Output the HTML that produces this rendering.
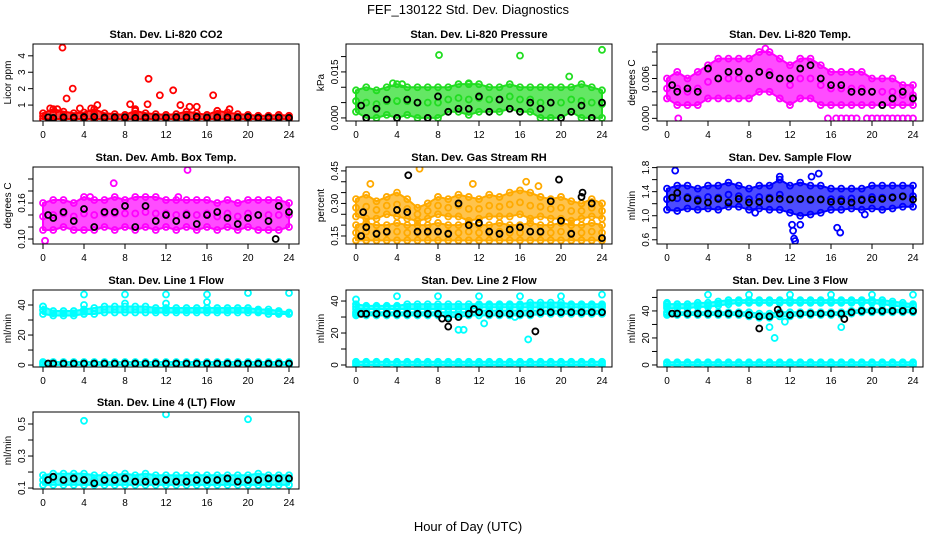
<!DOCTYPE html>
<html><head><meta charset="utf-8"><style>
body{margin:0;background:#fff}
svg{display:block;font-family:"Liberation Sans",sans-serif}
</style></head><body>
<svg id="chart" width="936" height="540" viewBox="0 0 936 540">
<text x="468" y="14" text-anchor="middle" font-size="13">FEF_130122  Std. Dev. Diagnostics</text>
<text x="468" y="531" text-anchor="middle" font-size="13">Hour of Day (UTC)</text>
</svg>
<script>
const hours=[0,1,2,3,4,5,6,7,8,9,10,11,12,13,14,15,16,17,18,19,20,21,22,23,24];
const xTicks=[0,4,8,12,16,20,24];
// Panel 1 CO2
const co2Lo=[0.15,0.15,0.15,0.15,0.15,0.15,0.15,0.15,0.15,0.15,0.15,0.15,0.15,0.15,0.15,0.15,0.15,0.15,0.15,0.15,0.15,0.15,0.15,0.15,0.15];
const co2Hi=[0.5,0.75,0.6,0.5,0.55,0.75,0.5,0.45,0.4,0.65,0.5,0.45,0.4,0.45,0.6,0.5,0.4,0.65,0.55,0.45,0.4,0.35,0.35,0.4,0.35];
const co2Black=[0.25,0.22,0.25,0.24,0.27,0.28,0.24,0.25,0.26,0.22,0.24,0.25,0.24,0.26,0.25,0.28,0.24,0.25,0.25,0.24,0.28,0.23,0.24,0.24,0.22];
const co2OutX=[1.9,2.3,2.9,3.6,5.3,8.5,9,10.2,10.3,11.4,12.7,13.4,14.3,15,16.6,18.2,0.7,1.4,4.7];
const co2OutY=[4.5,1.4,2.0,0.8,1.0,1.05,0.75,1.05,2.6,1.6,1.9,1.0,0.9,0.9,1.6,0.75,0.8,0.75,0.8];
// Panel 2 Pressure
const prLo=[0.002,0,0,0.001,0,0.001,0,0,0,0.002,0.002,0.001,0.002,0.002,0.002,0.003,0.002,0.002,0,0,0,0.002,0,0,0];
const prHi=[0.009,0.01,0.009,0.01,0.011,0.01,0.01,0.01,0.01,0.01,0.011,0.011,0.011,0.01,0.01,0.011,0.01,0.01,0.01,0.01,0.01,0.01,0.011,0.01,0.009];
const prBlack=[0.004,0,0.003,0.006,0,0.006,0.005,0,0.007,0.002,0.003,0.003,0.007,0.002,0.006,0.003,0.002,0.005,0.003,0.005,0,0.002,0.004,0,0.005];
const prOutX=[8.1,16,20.8,24,3.6,4.5,11];
const prOutY=[0.0205,0.0203,0.0135,0.0222,0.0113,0.011,0.0113];
// Panel 3 Temp
const tLo=[0.003,0.002,0.002,0.002,0.003,0.003,0.003,0.003,0.003,0.004,0.004,0.003,0.002,0.003,0.003,0.002,0.002,0.002,0.002,0.002,0.002,0.002,0.002,0.002,0.002];
const tHi=[0.006,0.007,0.006,0.007,0.008,0.009,0.009,0.009,0.009,0.01,0.01,0.009,0.008,0.009,0.009,0.008,0.007,0.007,0.007,0.007,0.006,0.006,0.006,0.005,0.005];
const tBlack=[0.005,0.004,0.0045,0.004,0.0075,0.006,0.007,0.007,0.006,0.007,0.0065,0.006,0.006,0.0075,0.008,0.006,0.005,0.005,0.004,0.004,0.004,0.002,0.003,0.004,0.003];
const tOutX=[1.1,15.7,16.5,17,17.5,18,18.5,19.5,20,20.5,21,21.5,22,22.5,23,23.5,24,9.6];
const tOutY=[0,0,0,0,0,0,0,0,0,0,0,0,0,0,0,0,0,0.0105];
// Panel 4 Amb box
const aLo=[0.115,0.115,0.12,0.115,0.115,0.115,0.12,0.115,0.12,0.115,0.12,0.115,0.12,0.115,0.12,0.115,0.12,0.115,0.12,0.115,0.12,0.115,0.115,0.115,0.12];
const aHi=[0.16,0.165,0.165,0.16,0.17,0.165,0.165,0.17,0.165,0.17,0.17,0.17,0.165,0.165,0.165,0.165,0.165,0.16,0.165,0.16,0.165,0.165,0.165,0.165,0.16];
const aBlack=[0.14,0.135,0.145,0.13,0.15,0.12,0.145,0.145,0.155,0.12,0.155,0.13,0.14,0.13,0.14,0.125,0.14,0.145,0.135,0.125,0.135,0.14,0.13,0.155,0.145];
const aOutX=[0.2,6.9,14.1,13.2,4.6];
const aOutY=[0.097,0.193,0.215,0.17,0.17];
const aBOutX=[22.7];
const aBOutY=[0.10];
// Panel 5 RH
const rhLoA=[0.13,0.13,0.13,0.13,0.13,0.13,0.13,0.13,0.13,0.13,0.13,0.13,0.13,0.13,0.13,0.13,0.13,0.13,0.13,0.13,0.13,0.13,0.13,0.13,0.13];
const rhHiA=[0.2,0.21,0.2,0.2,0.21,0.2,0.2,0.2,0.21,0.2,0.2,0.21,0.2,0.2,0.21,0.2,0.2,0.21,0.2,0.2,0.21,0.2,0.2,0.21,0.2];
const rhLoB=[0.24,0.23,0.23,0.25,0.24,0.23,0.22,0.23,0.25,0.24,0.24,0.22,0.23,0.24,0.24,0.24,0.25,0.23,0.24,0.23,0.23,0.22,0.23,0.24,0.23];
const rhHiB=[0.32,0.34,0.31,0.33,0.35,0.32,0.28,0.30,0.33,0.32,0.34,0.33,0.32,0.34,0.33,0.35,0.36,0.35,0.33,0.32,0.33,0.31,0.30,0.32,0.30];
const rhBlack=[0.15,0.19,0.16,0.17,0.27,0.26,0.17,0.17,0.17,0.16,0.30,0.20,0.21,0.17,0.16,0.18,0.19,0.17,0.17,0.31,0.22,0.16,0.33,0.30,0.14];
const rhOutX=[6.2,16.6,1.4,11.4,17.8];
const rhOutY=[0.46,0.40,0.39,0.39,0.38];
const rhBOutX=[5.1,19.8,22.1,0.7];
const rhBOutY=[0.43,0.41,0.35,0.26];
// Panel 6 Sample flow
const sLo=[1.1,1.08,1.12,1.1,1.12,1.1,1.15,1.15,1.1,1.12,1.1,1.1,1.05,1.0,1.02,1.05,1.1,1.1,1.12,1.1,1.12,1.1,1.12,1.15,1.15];
const sHi=[1.45,1.5,1.5,1.45,1.5,1.5,1.55,1.5,1.45,1.5,1.5,1.6,1.5,1.55,1.5,1.5,1.45,1.45,1.45,1.45,1.5,1.5,1.5,1.5,1.5];
const sBlack=[1.3,1.38,1.29,1.25,1.22,1.28,1.22,1.28,1.22,1.23,1.28,1.28,1.27,1.28,1.27,1.27,1.23,1.24,1.22,1.26,1.27,1.28,1.3,1.32,1.27];
const sOutX=[0.8,12.2,12.3,12.4,12.5,13,16.6,16.9,14.8,14.1,11,8.6,19.3];
const sOutY=[1.75,0.85,0.75,0.62,0.58,0.85,0.8,0.72,1.7,1.65,1.65,1.05,1.02];
// Panel 7 Line 1
const l1Lo=[34,33,33,33,34,34,35,35,35,35,35,35,35,35,35,35,35,35,35,35,35,35,34,34,34];
const l1Hi=[39,36,36,36,37,38,39,39,39,39,39,38,38,38,38,38,38,38,38,38,38,37,37,36,35];
const l1ZeroLo=[0,0,0,0,0,0,0,0,0,0,0,0,0,0,0,0,0,0,0,0,0,0,0,0,0];
const l1ZeroHi=[2,2,2,2,2,2,2,2,2,2,2,2,2,2,2,2,2,2,2,2,2,2,2,2,2];
const l1Black=[1,1,1,1,1,1,1,1,1,1,1,1,1,1,1,1,1,1,1,1,1,1,1,1,1];
const l1OutX=[4,8,12,16,20,24,0,4,8,12,16];
const l1OutY=[47,47,47,47,48,48,39,40,41,41,42];
// Panel 8 Line 2
const l2Lo=[35,35,35,35,35,35,35,35,35,35,35,35,36,36,36,36,36,36,36,36,36,36,36,36,36];
const l2Hi=[38,37,37,37,37,38,38,38,38,38,38,38,38,38,38,38,38,39,39,39,39,38,38,38,38];
const l2MidLo=[31,31,31,31,31,31,31,31,31,30,30,31,31,31,31,31,31,31,32,32,32,32,32,32,32];
const l2MidHi=[33,33,33,33,33,33,33,33,33,33,33,33,34,34,34,34,34,34,34,34,34,34,34,34,34];
const l2Black=[32,32,32,32,32,32,32,32,32,29,30,32,33,32,32,32,32,32,33,33,33,33,33,33,33];
const l2OutX=[0,4,8,12,16,20,24,10,10.5,16.8,12.5,15.5];
const l2OutY=[41,43,43,43,43,43,44,22,22,16,26,30];
const l2BOutX=[9,11.5,17.5,8.4];
const l2BOutY=[24,35,21,29];
// Panel 9 Line 3
const l3Lo=[42,42,42,43,43,44,45,46,46,46,46,46,46,46,46,46,46,46,46,46,46,45,44,43,43];
const l3Hi=[45,45,45,46,46,47,48,48,48,48,48,48,48,48,48,48,48,48,48,48,48,48,47,46,45];
const l3MidLo=[37,37,37,37,37,37,37,37,36,35,35,36,36,37,37,37,37,37,38,39,39,39,39,39,39];
const l3MidHi=[39,39,39,39,39,39,39,39,39,38,38,39,39,39,39,39,39,39,40,41,41,41,41,41,41];
const l3Black=[38,38,38,38,38,38,38,38,37,36,36,38,37,38,38,38,38,38,39,40,40,40,40,40,40];
const l3OutX=[0,4,8,12,16,20,24,10.5,11.5,17,10];
const l3OutY=[46,52,52,52,52,52,52,20,32,28,28];
const l3BOutX=[9,10.8,17.3];
const l3BOutY=[27,41,34];
// Panel 10 Line 4
const l4Lo=[0.12,0.12,0.12,0.12,0.12,0.12,0.12,0.12,0.12,0.12,0.12,0.12,0.12,0.12,0.12,0.12,0.12,0.12,0.12,0.12,0.12,0.12,0.12,0.12,0.12];
const l4Hi=[0.18,0.19,0.19,0.19,0.19,0.18,0.18,0.18,0.19,0.18,0.19,0.18,0.18,0.18,0.18,0.18,0.18,0.18,0.18,0.18,0.18,0.19,0.18,0.18,0.18];
const l4Black=[0.15,0.17,0.15,0.16,0.15,0.13,0.15,0.15,0.16,0.14,0.14,0.14,0.15,0.14,0.14,0.15,0.15,0.15,0.16,0.14,0.15,0.15,0.16,0.16,0.16];
const l4OutX=[4,12,20];
const l4OutY=[0.52,0.56,0.53];

const panels=[
 {name:'co2',title:'Stan. Dev. Li-820 CO2',yl:'Licor ppm',col:0,row:0,dom:[0.03,4.72],ticks:[1,2,3,4],labels:['1','2','3','4'],color:'#ff0000',bands:[[co2Lo,co2Hi]],black:co2Black,ox:co2OutX,oy:co2OutY},
 {name:'pressure',title:'Stan. Dev. Li-820 Pressure',yl:'kPa',col:1,row:0,dom:[-0.001,0.0241],ticks:[0,0.005,0.01,0.015,0.02],labels:['0.000','','','0.015',''],color:'#22dd22',bands:[[prLo,prHi]],black:prBlack,ox:prOutX,oy:prOutY},
 {name:'li820-temp',title:'Stan. Dev. Li-820 Temp.',yl:'degrees C',col:2,row:0,dom:[-0.0004,0.0112],ticks:[0,0.002,0.004,0.006,0.008,0.01],labels:['0.000','','','0.006','',''],color:'#ff00ff',bands:[[tLo,tHi]],black:tBlack,ox:tOutX,oy:tOutY},
 {name:'amb-box-temp',title:'Stan. Dev. Amb. Box Temp.',yl:'degrees C',col:0,row:1,dom:[0.0917,0.22],ticks:[0.1,0.12,0.14,0.16,0.18,0.2],labels:['0.10','','','0.16','',''],color:'#ff00ff',bands:[[aLo,aHi]],black:aBlack,ox:aOutX,oy:aOutY,bx:aBOutX,by:aBOutY},
 {name:'gas-stream-rh',title:'Stan. Dev. Gas Stream RH',yl:'percent',col:1,row:1,dom:[0.113,0.468],ticks:[0.15,0.2,0.25,0.3,0.35,0.4,0.45],labels:['0.15','','','0.30','','','0.45'],color:'#ffaa00',bands:[[rhLoA,rhHiA],[rhLoB,rhHiB]],black:rhBlack,ox:rhOutX,oy:rhOutY,bx:rhBOutX,by:rhBOutY},
 {name:'sample-flow',title:'Stan. Dev. Sample Flow',yl:'ml/min',col:2,row:1,dom:[0.53,1.81],ticks:[0.6,0.8,1.0,1.2,1.4,1.6,1.8],labels:['0.6','','1.0','','1.4','','1.8'],color:'#0000ff',bands:[[sLo,sHi]],black:sBlack,ox:sOutX,oy:sOutY},
 {name:'line1-flow',title:'Stan. Dev. Line 1 Flow',yl:'ml/min',col:0,row:2,dom:[-1.3,50],ticks:[0,10,20,30,40],labels:['0','','20','','40'],color:'#00ffff',bands:[[l1Lo,l1Hi],[l1ZeroLo,l1ZeroHi]],black:l1Black,ox:l1OutX,oy:l1OutY},
 {name:'line2-flow',title:'Stan. Dev. Line 2 Flow',yl:'ml/min',col:1,row:2,dom:[-1.25,46.9],ticks:[0,10,20,30,40],labels:['0','','20','','40'],color:'#00ffff',bands:[[l2Lo,l2Hi],[l2MidLo,l2MidHi],[l1ZeroLo,l1ZeroHi]],black:l2Black,ox:l2OutX,oy:l2OutY,bx:l2BOutX,by:l2BOutY},
 {name:'line3-flow',title:'Stan. Dev. Line 3 Flow',yl:'ml/min',col:2,row:2,dom:[-1.5,55.5],ticks:[0,10,20,30,40,50],labels:['0','','20','','40',''],color:'#00ffff',bands:[[l3Lo,l3Hi],[l3MidLo,l3MidHi],[l1ZeroLo,l1ZeroHi]],black:l3Black,ox:l3OutX,oy:l3OutY,bx:l3BOutX,by:l3BOutY},
 {name:'line4-flow',title:'Stan. Dev. Line 4 (LT) Flow',yl:'ml/min',col:0,row:3,dom:[0.094,0.575],ticks:[0.1,0.2,0.3,0.4,0.5],labels:['0.1','','0.3','','0.5'],color:'#00ffff',bands:[[l4Lo,l4Hi]],black:l4Black,ox:l4OutX,oy:l4OutY}
];
const NS='http://www.w3.org/2000/svg';
const svg=document.getElementById('chart');
const colLeft=[33,346,657], rowTop=[44,167,290,412], W=266, H=77;
function mk(tag,attrs,parent){const e=document.createElementNS(NS,tag);for(const k in attrs)e.setAttribute(k,attrs[k]);parent.appendChild(e);return e;}
panels.forEach(p=>{
 const L=colLeft[p.col], T=rowTop[p.row];
 const g=mk('g',{},svg);
 
 
 const xs=h=>L+10+h*(W-20)/24;
 const ys=v=>T+H-(v-p.dom[0])/(p.dom[1]-p.dom[0])*H;
 const clip='c'+p.name;
 const cp=mk('clipPath',{id:clip},g); mk('rect',{x:L,y:T,width:W,height:H},cp);
 const pg=mk('g',{'clip-path':'url(#'+clip+')'},g);
 p.bands.forEach((b,bi)=>{
  let d='M'+hours.map((h,i)=>xs(h)+','+ys(b[1][i])).join(' L')+' L'+hours.slice().reverse().map((h,j)=>{const i=hours.length-1-j;return xs(h)+','+ys(b[0][i]);}).join(' L')+'Z';
  const band=mk('path',{d:d,fill:p.color,'fill-opacity':0.7,stroke:p.color,'stroke-width':2,'stroke-linejoin':'round'},pg);
  
  
  hours.forEach((h,i)=>{
   [b[0][i],b[1][i],(b[0][i]+b[1][i])/2].forEach(v=>{
    const c=mk('circle',{cx:xs(h),cy:ys(v),r:3,fill:'none',stroke:p.color,'stroke-width':1.8},pg);
    
    
   });
  });
 });
 p.ox.forEach((x,i)=>{
  const c=mk('circle',{cx:xs(x),cy:ys(p.oy[i]),r:3,fill:'none',stroke:p.color,'stroke-width':1.8},pg);
  
  
 });
 p.black.forEach((v,i)=>{
  const c=mk('circle',{cx:xs(i==0?0.5:hours[i]),cy:ys(v),r:3,fill:'none',stroke:'#000','stroke-width':1.8},pg);
  
  
 });
 (p.bx||[]).forEach((x,i)=>{
  const c=mk('circle',{cx:xs(x),cy:ys(p.by[i]),r:3,fill:'none',stroke:'#000','stroke-width':1.8},pg);
  
  
 });
 const box=mk('rect',{x:L,y:T,width:W,height:H,fill:'none',stroke:'#000','stroke-width':1},g);
 
 
 const t=mk('text',{x:L+W/2,y:T-6,'text-anchor':'middle','font-size':11,'font-weight':'bold'},g);
 t.textContent=p.title;
 
 
 const yl=mk('text',{x:0,y:0,'text-anchor':'middle','font-size':10,transform:'translate('+(L-22)+','+(T+H/2)+') rotate(-90)'},g);
 yl.textContent=p.yl;
 
 
 xTicks.forEach(h=>{
  mk('line',{x1:xs(h),x2:xs(h),y1:T+H,y2:T+H+5,stroke:'#000'},g);
  const tl=mk('text',{x:xs(h),y:T+H+17,'text-anchor':'middle','font-size':10},g);
  tl.textContent=h;
  
  
 });
 p.ticks.forEach((v,i)=>{
  mk('line',{x1:L,x2:L-5,y1:ys(v),y2:ys(v),stroke:'#000'},g);
  if(p.labels[i]){
   const tl=mk('text',{x:0,y:0,'text-anchor':'middle','font-size':10,transform:'translate('+(L-8)+','+ys(v)+') rotate(-90)'},g);
   tl.textContent=p.labels[i];
   
   
  }
 });
});
</script>
</body></html>
